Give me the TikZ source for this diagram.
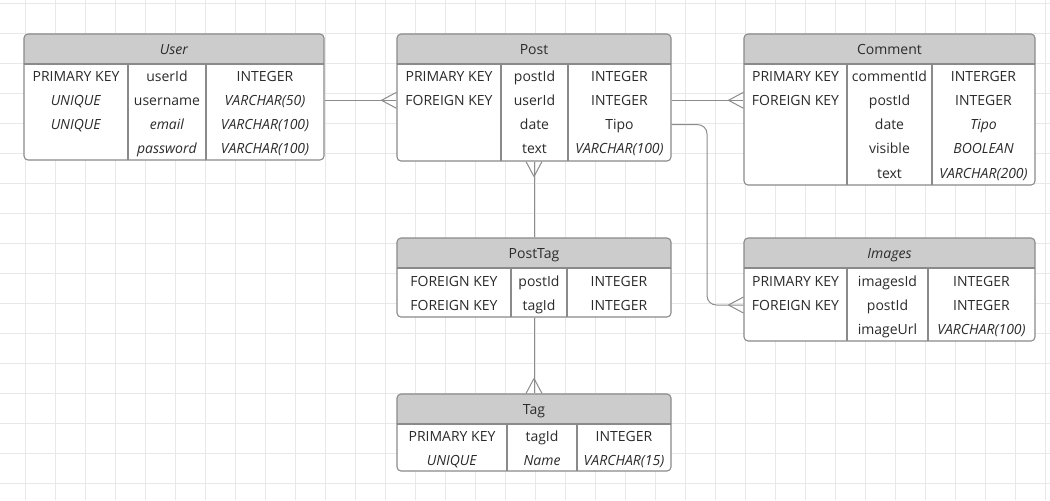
\documentclass[tikz,border=0pt]{standalone}
\usepackage{fontspec}
\setmainfont{Open Sans}
\usetikzlibrary{calc,fit}
\definecolor{gridc}{HTML}{E8E8E8}
\definecolor{bordc}{HTML}{8A8A8A}
\definecolor{hdrc}{HTML}{CCCCCC}
\definecolor{txtc}{HTML}{2B2B2B}
\definecolor{connc}{HTML}{8C8C8C}
\tikzset{
  tbl/.style={draw=bordc, line width=0.8pt, rounded corners=3pt, inner sep=0pt},
  divline/.style={draw=bordc, line width=0.8pt},
  cell/.style={text=txtc, font=\fontsize{10.5pt}{12pt}\selectfont, inner sep=0pt,
    text height=9.2pt, text depth=1.6pt, anchor=center},
  conn/.style={draw=connc, line width=0.75pt},
  gridline/.style={draw=gridc, line width=0.75pt}
}
% name, x1, y1, x2, y2, header bottom, divider1, divider2, title
\newcommand\ertable[9]{%
  \begin{scope}
    \clip[rounded corners=3pt] (#2,#3) rectangle (#4,#5);
    \fill[white] (#2,#3) rectangle (#4,#5);
    \fill[hdrc] (#2,#3) rectangle (#4,#6);
  \end{scope}
  \draw[divline] (#2,#6) -- (#4,#6) (#7,#6) -- (#7,#5) (#8,#6) -- (#8,#5);
  \node[tbl, fit={(#2,#3)(#4,#5)}] (#1) {};
  \node[cell] (#1-h) at ({(#2+#4)/2},{(#3+#6)/2}) {#9};
}
\newcommand\cell[4]{\node[cell] (#1) at (#2,#3) {#4};}
% crow's foot: point, offset of the convergence point
\newcommand\crowh[2]{\draw[conn] ($#1+(#2,0)$) -- ($#1+(0,-8)$) ($#1+(#2,0)$) -- ($#1+(0,8)$);}
\newcommand\crowv[2]{\draw[conn] ($#1+(0,#2)$) -- ($#1+(-8,0)$) ($#1+(0,#2)$) -- ($#1+(8,0)$);}
\begin{document}
\begin{tikzpicture}[x=0.75pt,y=-0.75pt]
\useasboundingbox (0,0) rectangle (1050,500);
\fill[white] (0,0) rectangle (1050,500);
\foreach \x in {25,55,...,1045} \draw[gridline] (\x,0) -- (\x,500);
\foreach \y in {3,33,...,483} \draw[gridline] (0,\y) -- (1050,\y);

% User
\ertable{user}{24}{34}{324}{160}{64}{128}{206}{\textit{User}}
\cell{user-1a}{76}{76}{PRIMARY KEY}
\cell{user-2a}{76}{100}{\textit{UNIQUE}}
\cell{user-3a}{76}{124}{\textit{UNIQUE}}
\cell{user-1b}{167}{76}{userId}
\cell{user-2b}{167}{100}{username}
\cell{user-3b}{167}{124}{\textit{email}}
\cell{user-4b}{167}{148}{\textit{password}}
\cell{user-1c}{265}{76}{INTEGER}
\cell{user-2c}{265}{100}{\textit{VARCHAR(50)}}
\cell{user-3c}{265}{124}{\textit{VARCHAR(100)}}
\cell{user-4c}{265}{148}{\textit{VARCHAR(100)}}

% Post
\ertable{post}{397}{34}{671}{161}{64}{501}{568}{Post}
\cell{post-1a}{449}{76}{PRIMARY KEY}
\cell{post-2a}{449}{100.3}{FOREIGN KEY}
\cell{post-1b}{534.5}{76}{postId}
\cell{post-2b}{534.5}{100.3}{userId}
\cell{post-3b}{534.5}{124.6}{date}
\cell{post-4b}{534.5}{148.9}{text}
\cell{post-1c}{619.5}{76}{INTEGER}
\cell{post-2c}{619.5}{100.3}{INTEGER}
\cell{post-3c}{619.5}{124.6}{Tipo}
\cell{post-4c}{619.5}{148.9}{\textit{VARCHAR(100)}}

% Comment
\ertable{comment}{744}{34}{1035}{185}{64}{847}{932}{Comment}
\cell{comment-1a}{795.5}{76}{PRIMARY KEY}
\cell{comment-2a}{795.5}{100.3}{FOREIGN KEY}
\cell{comment-1b}{889.5}{76}{commentId}
\cell{comment-2b}{889.5}{100.3}{postId}
\cell{comment-3b}{889.5}{124.6}{date}
\cell{comment-4b}{889.5}{148.9}{visible}
\cell{comment-5b}{889.5}{173.2}{text}
\cell{comment-1c}{983.5}{76}{INTERGER}
\cell{comment-2c}{983.5}{100.3}{INTEGER}
\cell{comment-3c}{983.5}{124.6}{\textit{Tipo}}
\cell{comment-4c}{983.5}{148.9}{\textit{BOOLEAN}}
\cell{comment-5c}{983.5}{173.2}{\textit{VARCHAR(200)}}

% PostTag
\ertable{posttag}{397}{238}{671}{317}{268}{511}{567}{PostTag}
\cell{posttag-1a}{454}{281}{FOREIGN KEY}
\cell{posttag-2a}{454}{305}{FOREIGN KEY}
\cell{posttag-1b}{539}{281}{postId}
\cell{posttag-2b}{539}{305}{tagId}
\cell{posttag-1c}{619}{281}{INTEGER}
\cell{posttag-2c}{619}{305}{INTEGER}

% Images
\ertable{images}{744}{238}{1035}{341}{268}{847}{928}{\textit{Images}}
\cell{images-1a}{795.5}{281}{PRIMARY KEY}
\cell{images-2a}{795.5}{305}{FOREIGN KEY}
\cell{images-1b}{887.5}{281}{imagesId}
\cell{images-2b}{887.5}{305}{postId}
\cell{images-3b}{887.5}{329}{imageUrl}
\cell{images-1c}{981.5}{281}{INTEGER}
\cell{images-2c}{981.5}{305}{INTEGER}
\cell{images-3c}{981.5}{329}{\textit{VARCHAR(100)}}

% Tag
\ertable{tag}{397}{394}{671}{471}{424}{507}{577}{Tag}
\cell{tag-1a}{452}{436}{PRIMARY KEY}
\cell{tag-2a}{452}{460}{\textit{UNIQUE}}
\cell{tag-1b}{542}{436}{tagId}
\cell{tag-2b}{542}{460}{\textit{Name}}
\cell{tag-1c}{624}{436}{INTEGER}
\cell{tag-2c}{624}{460}{\textit{VARCHAR(15)}}

% Connectors
\draw[conn] (user.east |- post-2a) -- (post.west |- post-2a);
\crowh{(post.west |- post-2a)}{-15}
\draw[conn] (post.east |- post-2a) -- (comment.west |- post-2a);
\crowh{(comment.west |- post-2a)}{-15}
\coordinate (bend) at (707,0);
\draw[conn, rounded corners=7pt] (post.east |- post-3c) -| (bend |- images-2a) -- (images.west |- images-2a);
\crowh{(images.west |- images-2a)}{-15}
\draw[conn] (post.south) -- (posttag.north);
\crowv{(post.south)}{15}
\draw[conn] (posttag.south) -- (tag.north);
\crowv{(tag.north)}{-15}
\end{tikzpicture}
\end{document}
